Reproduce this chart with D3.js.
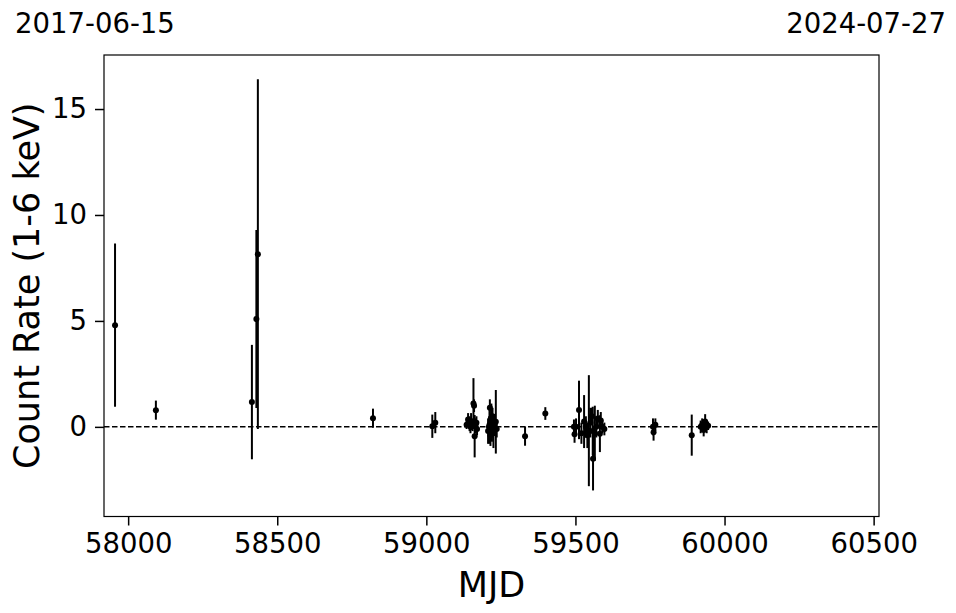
<!DOCTYPE html>
<html>
<head>
<meta charset="utf-8">
<script src="https://cdn.jsdelivr.net/npm/d3@7/dist/d3.min.js"></script>
<style>
  html, body { margin: 0; padding: 0; background: #fff; }
  svg { display: block; font-family: "DejaVu Sans", sans-serif; }
</style>
</head>
<body>
<svg id="chart" width="956" height="613"></svg>
<script>
// ---- data ----
const mjd = [
  57956, 58093, 58415, 58430, 58435, 58821, 59020, 59030,
  59135, 59140, 59145, 59148, 59150, 59155, 59158, 59160, 59162, 59165, 59168, 59170,
  59207, 59210, 59212, 59213, 59215, 59218, 59220, 59222, 59225, 59228, 59233, 59236,
  59331, 59399,
  59495, 59497, 59502, 59512, 59520, 59529, 59535, 59540, 59545, 59550, 59555, 59558, 59559,
  59565, 59570, 59575, 59582, 59585, 59590, 59597,
  59760, 59762, 59768, 59890,
  59920, 59925, 59930, 59935, 59940, 59945
];
const rate = [
  4.8, 0.79, 1.17, 5.09, 8.15, 0.41, 0.03, 0.2,
  0.1, 0.35, 0.15, 0.0, 0.25, 0.1, 1.1, 1.0, -0.44, 0.05, 0.2, -0.1,
  -0.2, 0.0, 0.1, 0.9, -0.4, 0.3, -0.1, 0.5, -0.3, 0.1, 0.24, -0.1,
  -0.44, 0.63,
  0.0, -0.35, 0.0, 0.8, -0.3, 0.25, 0.0, -0.4, -0.18, 0.2, 0.5, -0.2, -1.5,
  -0.3, 0.0, 0.4, -0.32, 0.3, 0.0, -0.1,
  0.0, -0.25, 0.1, -0.39,
  0.0, 0.1, -0.15, 0.25, 0.0, 0.05
];
const err = [
  3.85, 0.45, 2.7, 4.2, 8.25, 0.45, 0.55, 0.5,
  0.2, 0.3, 0.35, 0.3, 0.4, 0.3, 1.2, 0.3, 1.0, 0.35, 0.3, 0.3,
  0.6, 0.5, 0.9, 0.4, 0.5, 0.8, 0.6, 0.4, 0.7, 0.5, 1.5, 0.4,
  0.45, 0.3,
  0.35, 0.4, 0.4, 1.38, 0.5, 1.25, 0.5, 0.6, 2.62, 0.7, 0.4, 1.15, 1.5,
  1.3, 0.5, 0.4, 0.87, 0.4, 0.3, 0.3,
  0.4, 0.4, 0.3, 0.97,
  0.3, 0.3, 0.3, 0.35, 0.3, 0.2
];
const xTicks = [58000, 58500, 59000, 59500, 60000, 60500];
const yTicks = [0, 5, 10, 15];
const xDomain = [57919, 60518];
const yDomain = [-4.23, 17.55];
const dateLeft = "2017-06-15";
const dateRight = "2024-07-27";
const xLabel = "MJD";
const yLabel = "Count Rate (1-6 keV)";

// ---- layout ----
const svg = d3.select("#chart");
const L = 104, T = 55, W = 775, H = 461.5;
const x = d3.scaleLinear().domain(xDomain).range([L, L + W]);
const y = d3.scaleLinear().domain(yDomain).range([T + H, T]);

const points = mjd.map((m, i) => ({ m, r: rate[i], e: err[i] }));

svg.append("defs").append("clipPath").attr("id", "clip")
  .append("rect").attr("x", L).attr("y", T).attr("width", W).attr("height", H);

const plot = svg.append("g").attr("clip-path", "url(#clip)");

// zero line
plot.append("line")
  .attr("x1", L).attr("x2", L + W)
  .attr("y1", y(0)).attr("y2", y(0))
  .attr("stroke", "#000").attr("stroke-width", 1.5)
  .attr("stroke-dasharray", "5.5,2.5");

// error bars
plot.selectAll("line.err").data(points).enter().append("line")
  .attr("class", "err")
  .attr("x1", d => x(d.m)).attr("x2", d => x(d.m))
  .attr("y1", d => y(d.r - d.e)).attr("y2", d => y(d.r + d.e))
  .attr("stroke", "#000").attr("stroke-width", 2);

// points
plot.selectAll("circle").data(points).enter().append("circle")
  .attr("cx", d => x(d.m)).attr("cy", d => y(d.r))
  .attr("r", 3).attr("fill", "#000");

// axes
const xAxis = d3.axisBottom(x).tickValues(xTicks).tickFormat(d3.format("d"))
  .tickSizeInner(9).tickSizeOuter(0).tickPadding(8);
const yAxis = d3.axisLeft(y).tickValues(yTicks).tickFormat(d3.format("d"))
  .tickSizeInner(9).tickSizeOuter(0).tickPadding(8);

const gx = svg.append("g").attr("transform", `translate(0,${T + H})`).call(xAxis);
const gy = svg.append("g").attr("transform", `translate(${L},0)`).call(yAxis);
[gx, gy].forEach(g => {
  g.select(".domain").remove();
  g.selectAll(".tick line").attr("stroke", "#000").attr("stroke-width", 1.5);
  g.selectAll(".tick text").attr("fill", "#000")
    .style("font-size", "27.5px").style("font-family", "DejaVu Sans");
});

// frame
svg.append("rect").attr("x", L).attr("y", T).attr("width", W).attr("height", H)
  .attr("fill", "none").attr("stroke", "#000").attr("stroke-width", 1.2);

// axis labels
svg.append("text").attr("x", L + W / 2).attr("y", 597)
  .attr("text-anchor", "middle").style("font-size", "35px").text(xLabel);
svg.append("text")
  .attr("transform", `translate(39,${T + H / 2}) rotate(-90)`)
  .attr("text-anchor", "middle").style("font-size", "35px").text(yLabel);

// date labels
svg.append("text").attr("x", 15).attr("y", 33)
  .style("font-size", "27.5px").text(dateLeft);
svg.append("text").attr("x", 946).attr("y", 33)
  .attr("text-anchor", "end").style("font-size", "27.5px").text(dateRight);
</script>
</body>
</html>
